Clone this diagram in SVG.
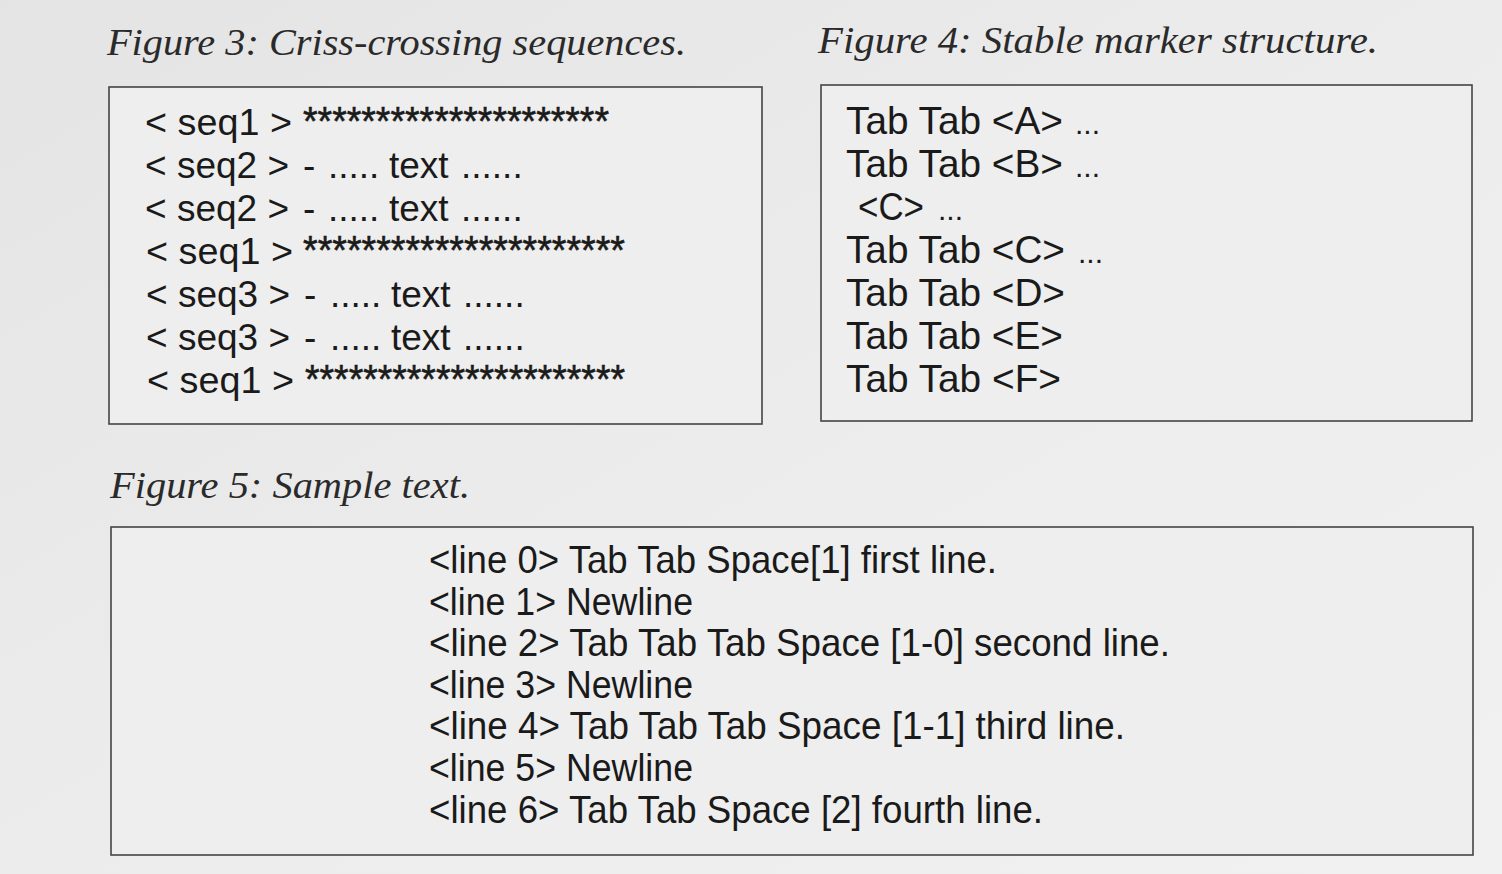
<svg xmlns="http://www.w3.org/2000/svg" width="1502" height="874" viewBox="0 0 1502 874">
<defs>
<linearGradient id="bg" x1="0" y1="0" x2="1" y2="1">
<stop offset="0" stop-color="#e4e4e4"/>
<stop offset="0.5" stop-color="#ececec"/>
<stop offset="1" stop-color="#f1f1f1"/>
</linearGradient>
<style>
.box{fill:#eeeeee;stroke:#444444;stroke-width:1.6}
.cap{font-family:"Liberation Serif","Times New Roman",serif;font-style:italic;font-size:38px;fill:#2a2a2a}
.t3{font-family:"Liberation Sans",Arial,sans-serif;font-size:37px;fill:#1a1a1a}
.st{font-family:"Liberation Sans",Arial,sans-serif;font-size:40px;fill:#1a1a1a;stroke:#1a1a1a;stroke-width:0.6}
.t4{font-family:"Liberation Sans",Arial,sans-serif;font-size:39px;fill:#1a1a1a}
.t5{font-family:"Liberation Sans",Arial,sans-serif;font-size:39px;fill:#1a1a1a}
</style>
</defs>
<rect x="0" y="0" width="1502" height="874" fill="url(#bg)"/>

<g id="fig3">
<text class="cap" x="107" y="55" textLength="579" lengthAdjust="spacingAndGlyphs">Figure 3: Criss-crossing sequences.</text>
<rect class="box" x="109" y="87" width="653" height="337"/>
<text class="t3" x="145" y="135" textLength="147" lengthAdjust="spacingAndGlyphs">&lt; seq1 &gt;</text>
<text class="st" x="303" y="135" textLength="306" lengthAdjust="spacingAndGlyphs">*********************</text>
<text class="t3" y="178"><tspan x="145">&lt; seq2 &gt;</tspan><tspan x="303">-</tspan><tspan x="328">.....</tspan><tspan x="389">text</tspan><tspan x="461">......</tspan></text>
<text class="t3" y="221"><tspan x="145">&lt; seq2 &gt;</tspan><tspan x="303">-</tspan><tspan x="328">.....</tspan><tspan x="389">text</tspan><tspan x="461">......</tspan></text>
<text class="t3" x="146" y="264" textLength="147" lengthAdjust="spacingAndGlyphs">&lt; seq1 &gt;</text>
<text class="st" x="303" y="264" textLength="322" lengthAdjust="spacingAndGlyphs">**********************</text>
<text class="t3" y="307"><tspan x="146">&lt; seq3 &gt;</tspan><tspan x="304">-</tspan><tspan x="330">.....</tspan><tspan x="391">text</tspan><tspan x="463">......</tspan></text>
<text class="t3" y="350"><tspan x="146">&lt; seq3 &gt;</tspan><tspan x="304">-</tspan><tspan x="330">.....</tspan><tspan x="391">text</tspan><tspan x="463">......</tspan></text>
<text class="t3" x="147" y="393" textLength="147" lengthAdjust="spacingAndGlyphs">&lt; seq1 &gt;</text>
<text class="st" x="305" y="393" textLength="320" lengthAdjust="spacingAndGlyphs">**********************</text>
</g>

<g id="fig4">
<text class="cap" x="818" y="53" textLength="560" lengthAdjust="spacingAndGlyphs">Figure 4: Stable marker structure.</text>
<rect class="box" x="821" y="85" width="651" height="336"/>
<text class="t4" y="134"><tspan x="846" textLength="217" lengthAdjust="spacingAndGlyphs">Tab Tab &lt;A&gt;</tspan><tspan x="1075" font-size="30">...</tspan></text>
<text class="t4" y="177"><tspan x="846" textLength="217" lengthAdjust="spacingAndGlyphs">Tab Tab &lt;B&gt;</tspan><tspan x="1075" font-size="30">...</tspan></text>
<text class="t4" y="220"><tspan x="858" textLength="66" lengthAdjust="spacingAndGlyphs">&lt;C&gt;</tspan><tspan x="938" font-size="30">...</tspan></text>
<text class="t4" y="263"><tspan x="846" textLength="219" lengthAdjust="spacingAndGlyphs">Tab Tab &lt;C&gt;</tspan><tspan x="1078" font-size="30">...</tspan></text>
<text class="t4" x="846" y="306" textLength="219" lengthAdjust="spacingAndGlyphs">Tab Tab &lt;D&gt;</text>
<text class="t4" x="846" y="349" textLength="217" lengthAdjust="spacingAndGlyphs">Tab Tab &lt;E&gt;</text>
<text class="t4" x="846" y="392" textLength="215" lengthAdjust="spacingAndGlyphs">Tab Tab &lt;F&gt;</text>
</g>

<g id="fig5">
<text class="cap" x="110" y="498" textLength="360" lengthAdjust="spacingAndGlyphs">Figure 5: Sample text.</text>
<rect class="box" x="111" y="527" width="1362" height="328"/>
<text class="t5" x="429" y="573" textLength="568" lengthAdjust="spacingAndGlyphs">&lt;line 0&gt; Tab Tab Space[1] first line.</text>
<text class="t5" x="429" y="615" textLength="264" lengthAdjust="spacingAndGlyphs">&lt;line 1&gt; Newline</text>
<text class="t5" x="429" y="656" textLength="741" lengthAdjust="spacingAndGlyphs">&lt;line 2&gt; Tab Tab Tab Space [1-0] second line.</text>
<text class="t5" x="429" y="698" textLength="264" lengthAdjust="spacingAndGlyphs">&lt;line 3&gt; Newline</text>
<text class="t5" x="429" y="739" textLength="696" lengthAdjust="spacingAndGlyphs">&lt;line 4&gt; Tab Tab Tab Space [1-1] third line.</text>
<text class="t5" x="429" y="781" textLength="264" lengthAdjust="spacingAndGlyphs">&lt;line 5&gt; Newline</text>
<text class="t5" x="429" y="823" textLength="614" lengthAdjust="spacingAndGlyphs">&lt;line 6&gt; Tab Tab Space [2] fourth line.</text>
</g>
</svg>
